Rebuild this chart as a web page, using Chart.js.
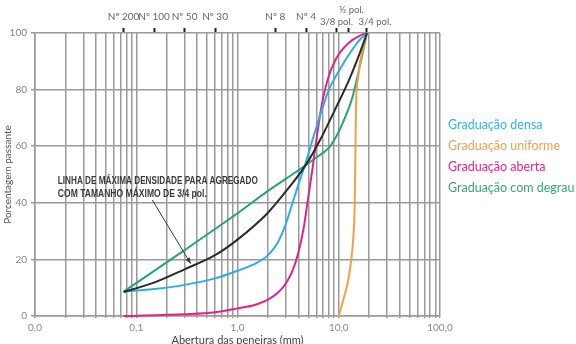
<!DOCTYPE html>
<html lang="pt">
<head>
    <meta charset="UTF-8">
    <title>Curvas granulométricas</title>
    <style>
        body { margin: 0; background: #fff; }
        #wrap { position: relative; width: 576px; height: 344px; }
    </style>
</head>
<body>
<div id="wrap"><canvas id="chart" width="576" height="344"></canvas></div>

<script src="https://cdn.jsdelivr.net/npm/chart.js"></script>
<script>
    // log grid of the sieve opening axis (mm)
    const xGrid = [0.01, 0.02, 0.03, 0.04, 0.05, 0.06, 0.07, 0.08, 0.09,
                   0.1, 0.2, 0.3, 0.4, 0.5, 0.6, 0.7, 0.8, 0.9,
                   1, 2, 3, 4, 5, 6, 7, 8, 9,
                   10, 20, 30, 40, 50, 60, 70, 80, 90, 100];
    const xTickValues = [0.01, 0.1, 1, 10, 100];
    const xTickLabels = ['0,0', '0,1', '1,0', '10,0', '100,0'];

    // sieves marked along the top
    const sieveSizes  = [0.075, 0.15, 0.3, 0.6, 2.36, 4.75, 9.5, 12.5, 19];
    const sieveLabels = ['Nº 200', 'Nº 100', 'Nº 50', 'Nº 30', 'Nº 8', 'Nº 4', '3/8 pol.', '½ pol.', '3/4 pol.'];

    // curves (opening mm -> % passing)
    const maxDensX = [0.075, 0.15, 0.3, 0.6, 1.0, 2.0, 3.0, 4.75, 6.5, 9.5, 12.5, 16, 19];
    const maxDensY = [8.5, 11.8, 16.5, 21.5, 27, 36.5, 44, 53.5, 62, 74, 83, 92.5, 100];

    const densaX = [0.075, 0.15, 0.3, 0.6, 1.0, 1.5, 2.0, 2.5, 3.0, 3.5, 4.0, 4.7, 5.9, 8.0, 10, 12.2, 16, 19];
    const densaY = [8.6, 9.5, 11, 13.3, 16, 18.5, 21.5, 26, 32.5, 40, 46.5, 54, 65.7, 80, 86.5, 91.6, 97.5, 100];

    const uniformeX = [10, 11.3, 12.4, 13.7, 14.3, 14.5, 14.8, 15.5, 16.2, 19];
    const uniformeY = [0, 6.8, 12.7, 24.5, 36.4, 48, 74, 84, 89.4, 100];

    const abertaX = [0.075, 0.3, 0.6, 1.0, 1.5, 2.0, 2.5, 3.0, 3.5, 4.0, 4.5, 5.0, 5.5, 6.0, 6.5, 7.0, 8.0, 9.0, 10, 12.5, 16, 19];
    const abertaY = [0, 0.6, 1.3, 2.7, 4, 5.8, 8.2, 11.5, 16, 22.5, 31, 42, 52, 62, 70.5, 77, 85, 89.5, 92.5, 96.5, 99, 100];

    const degrauX = [0.075, 0.3, 1.0, 2.0, 4.0, 6.0, 8.0, 9.8, 11.5, 13.7, 16.3, 19];
    const degrauY = [8.6, 23.3, 36.3, 44.2, 51.5, 56, 59.5, 64.5, 70, 77.5, 89, 100];

    const toPoints = (xs, ys) => xs.map((x, i) => ({ x: x, y: ys[i] }));

    const gridColor = '#9a9a9a';
    const fontFamily = 'Lato, "Open Sans", sans-serif';
    Chart.defaults.font.family = fontFamily;

    // sieve names above the top ticks (the "pol." ones are staggered)
    const sieveLabelShift = { '3/8 pol.': [0, 5], '½ pol.': [3, -7], '3/4 pol.': [8, 5] };
    const sieveNames = {
        id: 'sieveNames',
        afterDraw(chart) {
            const { ctx, scales, chartArea } = chart;
            ctx.save();
            ctx.fillStyle = '#666';
            ctx.textAlign = 'center';
            ctx.textBaseline = 'middle';
            sieveSizes.forEach((s, i) => {
                const name = sieveLabels[i];
                const shift = sieveLabelShift[name] || [0, 0];
                ctx.font = (name.indexOf('pol.') >= 0 ? '9.5px ' : '10px ') + fontFamily;
                ctx.fillText(name, scales.top.getPixelForValue(s) + shift[0], chartArea.top - 16 + shift[1]);
            });
            ctx.restore();
        }
    };

    // coloured text legend on the right
    const sideLegend = {
        id: 'sideLegend',
        afterDraw(chart) {
            const { ctx, chartArea } = chart;
            ctx.save();
            ctx.font = '12.5px ' + fontFamily;
            ctx.textBaseline = 'middle';
            let y = chartArea.top + 92;
            chart.data.datasets.forEach(ds => {
                if (!ds.inLegend) return;
                ctx.fillStyle = ds.textColor;
                ctx.fillText(ds.label, chartArea.right + 8, y);
                y += 21;
            });
            ctx.restore();
        }
    };

    // note + arrow pointing at the max density line
    const noteLines = ['LINHA DE MÁXIMA DENSIDADE PARA AGREGADO', 'COM TAMANHO MÁXIMO DE 3/4 pol.'];
    const notePlugin = {
        id: 'note',
        afterDatasetsDraw(chart) {
            const { ctx, scales } = chart;
            const x = scales.x, y = scales.y;
            ctx.save();
            ctx.fillStyle = '#3a3a3a';
            ctx.font = 'bold 10px "Liberation Sans", Arial, sans-serif';
            ctx.textBaseline = 'middle';
            const tx = x.getPixelForValue(0.0168);
            ctx.fillText(noteLines[0], tx, y.getPixelForValue(47.6), 200);
            ctx.fillText(noteLines[1], tx, y.getPixelForValue(43.0), 149);

            const x0 = x.getPixelForValue(0.144), y0 = y.getPixelForValue(41.0);
            const x1 = x.getPixelForValue(0.345), y1 = y.getPixelForValue(18.5);
            ctx.strokeStyle = '#3a3a3a';
            ctx.lineWidth = 1;
            ctx.beginPath();
            ctx.moveTo(x0, y0);
            ctx.lineTo(x1, y1);
            ctx.stroke();
            const a = Math.atan2(y1 - y0, x1 - x0);
            ctx.beginPath();
            ctx.moveTo(x1, y1);
            ctx.lineTo(x1 - 6 * Math.cos(a) + 2.5 * Math.sin(a), y1 - 6 * Math.sin(a) - 2.5 * Math.cos(a));
            ctx.lineTo(x1 - 6 * Math.cos(a) - 2.5 * Math.sin(a), y1 - 6 * Math.sin(a) + 2.5 * Math.cos(a));
            ctx.closePath();
            ctx.fill();
            ctx.restore();
        }
    };

    const lineStyle = {
        showLine: true,
        pointRadius: 0,
        borderWidth: 2,
        fill: false,
        cubicInterpolationMode: 'monotone',
        clip: 4
    };

    new Chart(document.getElementById('chart'), {
        type: 'scatter',
        data: {
            datasets: [
                { ...lineStyle, label: 'Máxima densidade', data: toPoints(maxDensX, maxDensY), borderColor: '#2b2b2b' },
                { ...lineStyle, label: 'Graduação densa', data: toPoints(densaX, densaY), borderColor: '#2eaee0', inLegend: true, textColor: '#35b3e4' },
                { ...lineStyle, label: 'Graduação uniforme', data: toPoints(uniformeX, uniformeY), borderColor: '#f2a048', inLegend: true, textColor: '#f3a04c' },
                { ...lineStyle, label: 'Graduação aberta', data: toPoints(abertaX, abertaY), borderColor: '#e0238b', inLegend: true, textColor: '#e0268c' },
                { ...lineStyle, label: 'Graduação com degrau', data: toPoints(degrauX, degrauY), borderColor: '#25a574', inLegend: true, textColor: '#35a878' }
            ]
        },
        options: {
            responsive: false,
            animation: false,
            layout: { padding: { left: 0, right: 136, top: 0, bottom: 0 } },
            plugins: {
                legend: { display: false },
                tooltip: { enabled: false }
            },
            scales: {
                x: {
                    type: 'logarithmic',
                    position: 'bottom',
                    min: 0.01,
                    max: 100,
                    afterBuildTicks: s => { s.ticks = xGrid.map(v => ({ value: v })); },
                    afterFit: s => { s.height = 28; },
                    grid: { color: gridColor, lineWidth: 1.5, tickLength: 2 },
                    border: { color: gridColor, width: 1.5 },
                    ticks: {
                        autoSkip: false,
                        maxRotation: 0,
                        padding: 4,
                        color: '#888',
                        font: { size: 10 },
                        callback: v => {
                            const i = xTickValues.findIndex(t => Math.abs(t - v) < t * 1e-6);
                            return i >= 0 ? xTickLabels[i] : '';
                        }
                    },
                    title: {
                        display: true,
                        text: 'Abertura das peneiras (mm)',
                        color: '#444',
                        font: { size: 11 },
                        padding: { top: 0, bottom: -3 }
                    }
                },
                top: {
                    type: 'logarithmic',
                    position: 'top',
                    min: 0.01,
                    max: 100,
                    afterBuildTicks: s => { s.ticks = sieveSizes.map(v => ({ value: v })); },
                    afterFit: s => { s.height = 33; },
                    grid: { drawOnChartArea: false, tickLength: 5, tickColor: '#222', tickWidth: 2 },
                    border: { display: false },
                    ticks: { display: false }
                },
                y: {
                    min: 0,
                    max: 100,
                    afterFit: s => { s.width = 35; },
                    grid: { color: gridColor, lineWidth: 1.5, tickLength: 4 },
                    border: { color: gridColor, width: 1.5 },
                    ticks: { stepSize: 20, color: '#888', font: { size: 10 }, padding: 4 },
                    title: {
                        display: true,
                        text: 'Porcentagem passante',
                        color: '#555',
                        font: { size: 10 },
                        padding: { top: 2, bottom: 0 }
                    }
                }
            }
        },
        plugins: [sieveNames, sideLegend, notePlugin]
    });
</script>
</body>
</html>
